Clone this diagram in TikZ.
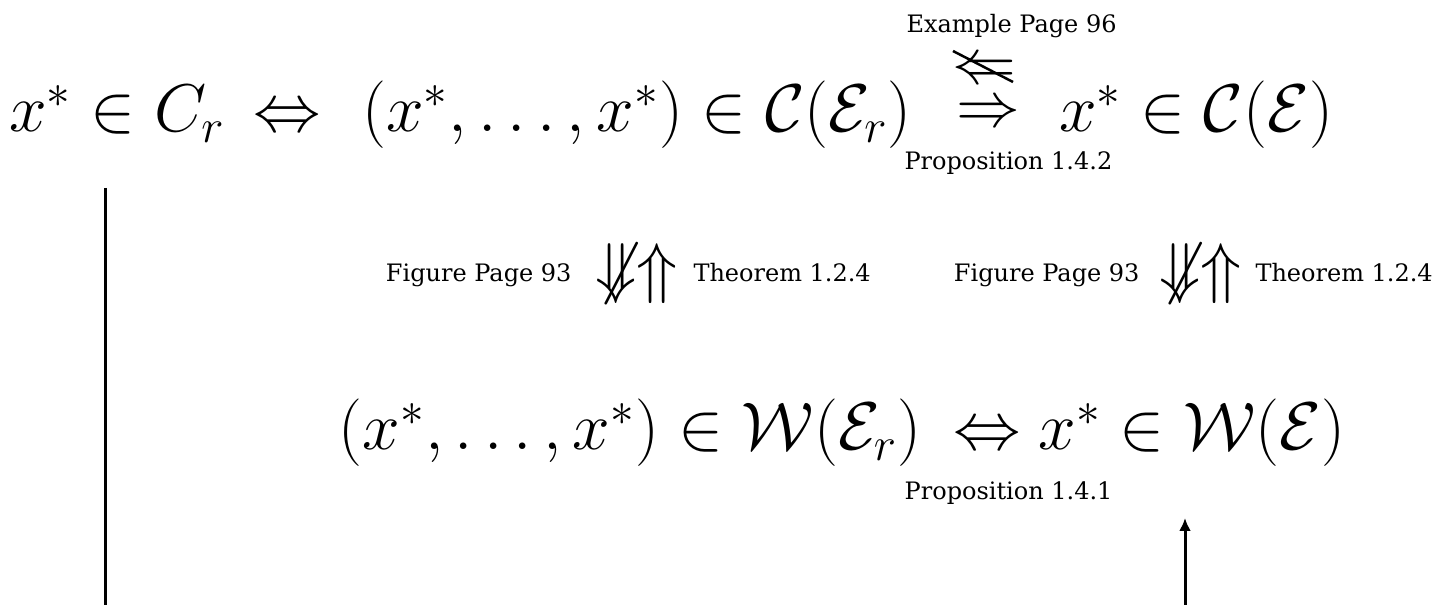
\RequirePackage{fix-cm}
\documentclass[tikz,border=0pt]{standalone}
\usepackage{amsmath}
\usepackage{amssymb}
\usepackage[no-math]{fontspec}
\setmainfont{DejaVu Serif}
\usetikzlibrary{arrows.meta}
\newcommand{\bigmath}{\fontsize{27}{32}\selectfont}
\newcommand{\midmath}{\fontsize{25.5}{30}\selectfont}
\newcommand{\lblsize}{\fontsize{9.6}{11}\selectfont}

\begin{document}
\begin{tikzpicture}[x=0.4pt,y=-0.4pt,>=Latex,line join=round,
    big/.style={inner sep=0pt,anchor=base,font=\bigmath},
    lbl/.style={inner sep=0pt,font=\lblsize},
    link/.style={line width=1.2pt},
    strike/.style={line width=1pt}]
    \useasboundingbox (0,0) rectangle (1436,605);
    % ============ Top row ============
    \node[big] (Cr)     at (117,132)  {$x^*\in C_r$};
    \node[big] (iffTop) at (287,132)  {$\Leftrightarrow$};
    \node[big] (CEr)    at (637,132)  {$(x^*,\ldots,x^*)\in\mathcal{C}(\mathcal{E}_r)$};
    \node[big] (CE)     at (1196,132) {$x^*\in\mathcal{C}(\mathcal{E})$};
    % ============ Implication between C(E_r) and C(E) ============
    \node[inner sep=0pt,font=\midmath] (left)  at (984,72)  {$\Leftarrow$};
    \node[inner sep=0pt,font=\midmath] (right) at (988,115) {$\Rightarrow$};
    \draw[strike] (953,51) -- (1013,82);
    \node[lbl,anchor=base west] (exLbl)   at (906,33)  {Example Page 96};
    \node[lbl,anchor=base west] (propTop) at (904,170) {Proposition 1.4.2};
    % ============ Vertical implications ============
    \node[inner sep=0pt,font=\bigmath] (vertA) at (637,274)  {$\not\Downarrow\Uparrow$};
    \node[lbl,anchor=base east] (figA) at (572,282)  {Figure Page 93};
    \node[lbl,anchor=base west] (thmA) at (693,282)  {Theorem 1.2.4};
    \node[inner sep=0pt,font=\bigmath] (vertB) at (1201,274) {$\not\Downarrow\Uparrow$};
    \node[lbl,anchor=base east] (figB) at (1140,282) {Figure Page 93};
    \node[lbl,anchor=base west] (thmB) at (1255,282) {Theorem 1.2.4};
    % ============ Bottom row ============
    \node[big] (WEr)    at (630,450)  {$(x^*,\ldots,x^*)\in\mathcal{W}(\mathcal{E}_r)$};
    \node[big] (iffBot) at (987,450)  {$\Leftrightarrow$};
    \node[big] (WE)     at (1192,450) {$x^*\in\mathcal{W}(\mathcal{E})$};
    \node[lbl,anchor=base east] (propBot) at (1113,500) {Proposition 1.4.1};
    % ============ Lines leaving the picture ============
    \coordinate (lineTop) at (105,188);
    \coordinate (lineBot) at (105,605);
    \coordinate (arrBot)  at (1185,605);
    \coordinate (arrTip)  at (1185,518);
    \draw[link] (lineTop) -- (lineBot);
    \draw[link,-{Latex[length=5.2pt,width=4.8pt]}] (arrBot) -- (arrTip);
\end{tikzpicture}
\end{document}
